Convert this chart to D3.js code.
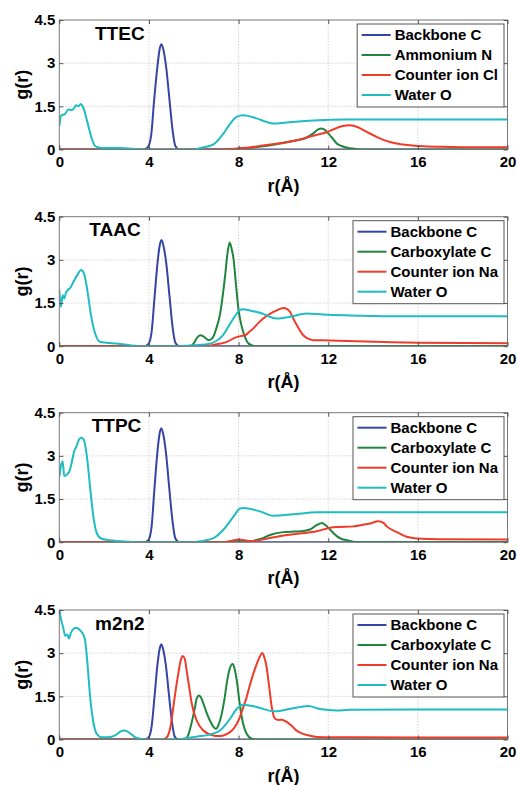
<!DOCTYPE html>
<html>
<head>
<meta charset="utf-8">
<script src="https://cdn.jsdelivr.net/npm/d3@7"></script>
<style>
  body { margin: 0; background: #fff; }
  svg { display: block; }
  text { font-family: "Liberation Sans", Arial, sans-serif; font-weight: bold; fill: #000; }
  .grid line { stroke: #d4d4d4; stroke-dasharray: 1.5,1.5; }
  .frame { fill: none; stroke: #777; stroke-width: 1; }
  .axis path { display: none; }
  .axis line { stroke: #555; }
  .curve { fill: none; stroke-width: 2; stroke-linejoin: round; }
</style>
</head>
<body>
<svg width="517" height="785"></svg>
<script>
// tick labels
var xTicks = [0, 4, 8, 12, 16, 20];
var yTicks = [0, 1.5, 3, 4.5];
var titles = ['TTEC', 'TAAC', 'TTPC', 'm2n2'];
var legendLabels = [
  ['Backbone C', 'Ammonium N', 'Counter ion Cl', 'Water O'],
  ['Backbone C', 'Carboxylate C', 'Counter ion Na', 'Water O'],
  ['Backbone C', 'Carboxylate C', 'Counter ion Na', 'Water O'],
  ['Backbone C', 'Carboxylate C', 'Counter ion Na', 'Water O']
];

// TTEC, [r, g(r)]
var ttecBackbone = [[0,0],[3.75,0],[3.95,0.08],[4.1,0.5],[4.23,1.7],[4.38,2.9],[4.48,3.5],[4.56,3.66],[4.65,3.45],[4.77,2.85],[4.92,1.7],[5.05,0.7],[5.18,0.12],[5.35,0],[20,0]];
var ttecAmmonium = [[0,0],[7.5,0],[8.0,0.03],[8.5,0.06],[9.1,0.11],[9.85,0.21],[10.6,0.32],[11.0,0.4],[11.33,0.56],[11.55,0.7],[11.7,0.73],[11.85,0.68],[12.0,0.56],[12.2,0.38],[12.38,0.21],[12.6,0.12],[12.8,0.07],[13.2,0.02],[13.6,0],[20,0]];
var ttecCounter = [[0,0],[7.0,0],[7.5,0.01],[8.0,0.04],[8.5,0.07],[9.1,0.14],[9.85,0.22],[10.6,0.32],[11.33,0.48],[11.93,0.6],[12.3,0.72],[12.53,0.79],[12.8,0.83],[12.97,0.84],[13.3,0.78],[13.72,0.61],[14.16,0.44],[14.75,0.26],[15.35,0.17],[16.24,0.11],[17.4,0.09],[18.5,0.08],[20,0.08]];
var ttecWater = [[0,0.81],[0.09,1.19],[0.25,1.23],[0.4,1.39],[0.55,1.37],[0.66,1.43],[0.75,1.54],[0.85,1.5],[0.95,1.58],[1.07,1.46],[1.25,0.96],[1.45,0.38],[1.6,0.12],[1.8,0.06],[2.2,0.05],[2.6,0.06],[3.0,0.04],[3.5,0.01],[4,0],[6.0,0],[6.3,0.05],[6.9,0.19],[7.33,0.56],[7.63,0.9],[7.93,1.14],[8.2,1.19],[8.81,1.08],[9.2,0.97],[9.55,0.9],[10.15,0.94],[11.33,1.01],[12.8,1.04],[16,1.04],[20,1.04]];

// TAAC
var taacBackbone = [[0,0],[3.8,0],[3.98,0.08],[4.12,0.5],[4.25,1.7],[4.39,2.95],[4.48,3.5],[4.56,3.69],[4.65,3.48],[4.77,2.9],[4.92,1.72],[5.05,0.7],[5.18,0.12],[5.35,0],[20,0]];
var taacCarboxylate = [[0,0],[5.8,0],[6.0,0.1],[6.15,0.3],[6.29,0.38],[6.45,0.33],[6.66,0.21],[6.85,0.3],[7.0,0.6],[7.18,1.14],[7.3,1.8],[7.41,2.53],[7.5,3.2],[7.6,3.6],[7.7,3.35],[7.78,3.0],[7.9,2.0],[8.0,1.25],[8.12,0.75],[8.23,0.44],[8.45,0.09],[8.75,0],[20,0]];
var taacCounter = [[0,0],[6.5,0],[7.02,0.07],[7.48,0.15],[7.85,0.3],[8.08,0.35],[8.3,0.38],[8.45,0.48],[8.66,0.62],[8.9,0.82],[9.1,0.96],[9.55,1.19],[9.8,1.28],[10.0,1.33],[10.15,1.3],[10.3,1.19],[10.45,0.95],[10.6,0.73],[10.89,0.38],[11.1,0.26],[11.33,0.21],[12.08,0.2],[13.27,0.17],[16,0.12],[20,0.1]];
var taacWater = [[0,1.97],[0.07,1.37],[0.15,1.77],[0.22,1.66],[0.3,1.86],[0.4,1.97],[0.5,2.04],[0.63,2.24],[0.8,2.47],[0.97,2.65],[1.1,2.53],[1.25,1.95],[1.4,1.14],[1.6,0.44],[1.82,0.15],[2.1,0.12],[2.56,0.09],[3.3,0.02],[3.6,0],[5.4,0],[5.7,0.02],[6.6,0.07],[7.0,0.18],[7.3,0.38],[7.62,0.78],[7.84,1.05],[8.06,1.25],[8.21,1.28],[8.5,1.24],[8.96,1.16],[9.7,0.96],[10.3,1.02],[11.04,1.14],[11.78,1.1],[12.97,1.07],[16,1.04],[20,1.04]];

// TTPC
var ttpcBackbone = [[0,0],[3.8,0],[3.98,0.08],[4.12,0.55],[4.24,1.8],[4.38,3.15],[4.47,3.75],[4.55,3.96],[4.64,3.75],[4.76,3.1],[4.91,1.85],[5.05,0.75],[5.18,0.13],[5.35,0],[20,0]];
var ttpcCarboxylate = [[0,0],[7.6,0],[7.9,0.06],[8.1,0.06],[8.5,0.04],[9.0,0.12],[9.4,0.25],[10.0,0.35],[10.5,0.37],[10.8,0.38],[11.19,0.44],[11.5,0.6],[11.71,0.67],[11.9,0.58],[12.08,0.44],[12.38,0.21],[12.6,0.11],[12.83,0.07],[13.1,0.02],[13.5,0],[20,0]];
var ttpcCounter = [[0,0],[7.3,0],[7.7,0.05],[8.0,0.09],[8.3,0.06],[8.6,0.04],[9.25,0.12],[10.0,0.23],[10.74,0.3],[11.49,0.38],[12.08,0.5],[12.5,0.53],[13.12,0.55],[13.5,0.6],[13.86,0.65],[14.24,0.73],[14.45,0.68],[14.61,0.55],[15.06,0.35],[15.5,0.19],[15.95,0.13],[17,0.1],[20,0.09]];
var ttpcWater = [[0,2.26],[0.07,2.63],[0.15,2.8],[0.22,2.3],[0.33,2.34],[0.45,2.46],[0.55,2.75],[0.66,3.15],[0.77,3.34],[0.89,3.58],[1.0,3.63],[1.1,3.55],[1.25,2.86],[1.37,1.94],[1.52,0.9],[1.67,0.32],[1.89,0.12],[2.27,0.07],[3.0,0.02],[3.5,0],[6.0,0],[6.29,0.03],[6.88,0.14],[7.33,0.44],[7.78,0.9],[8.06,1.17],[8.2,1.19],[8.96,1.07],[9.55,0.92],[10.44,0.97],[11.49,1.04],[12.97,1.04],[20,1.04]];

// m2n2
var m2n2Backbone = [[0,0],[3.82,0],[3.98,0.07],[4.12,0.45],[4.25,1.5],[4.38,2.6],[4.47,3.12],[4.55,3.31],[4.64,3.12],[4.76,2.55],[4.9,1.5],[5.03,0.6],[5.15,0.1],[5.3,0],[20,0]];
var m2n2Carboxylate = [[0,0],[5.6,0],[5.75,0.15],[5.91,0.6],[6.05,1.1],[6.13,1.42],[6.23,1.53],[6.33,1.45],[6.43,1.25],[6.58,0.92],[6.72,0.66],[6.87,0.45],[6.99,0.37],[7.1,0.5],[7.25,0.9],[7.37,1.4],[7.47,1.94],[7.6,2.45],[7.74,2.62],[7.84,2.4],[7.94,1.94],[8.04,1.3],[8.14,0.78],[8.25,0.42],[8.36,0.2],[8.58,0.03],[8.8,0],[20,0]];
var m2n2Counter = [[0,0],[4.6,0],[4.8,0.08],[4.95,0.4],[5.09,1.13],[5.2,1.75],[5.31,2.29],[5.42,2.75],[5.5,2.9],[5.6,2.8],[5.68,2.41],[5.8,1.8],[5.91,1.25],[6.13,0.66],[6.43,0.31],[6.87,0.14],[7.1,0.12],[7.32,0.14],[7.55,0.22],[7.77,0.37],[7.92,0.55],[8.06,0.78],[8.2,1.1],[8.36,1.47],[8.5,1.88],[8.66,2.29],[8.88,2.76],[9.06,3.01],[9.15,2.85],[9.25,2.52],[9.37,1.8],[9.48,1.13],[9.63,0.72],[9.78,0.68],[9.92,0.69],[10.15,0.61],[10.4,0.45],[10.59,0.31],[10.8,0.22],[11.04,0.16],[11.49,0.09],[12.38,0.08],[16,0.07],[20,0.07]];
var m2n2Water = [[0,4.47],[0.07,4.21],[0.18,3.86],[0.27,3.6],[0.36,3.65],[0.43,3.51],[0.51,3.69],[0.63,3.84],[0.77,3.88],[0.92,3.8],[1.04,3.69],[1.15,3.45],[1.25,2.7],[1.37,1.53],[1.52,0.6],[1.67,0.2],[1.89,0.08],[2.19,0.08],[2.49,0.14],[2.74,0.28],[2.9,0.31],[3.08,0.26],[3.38,0.08],[3.76,0.01],[4.0,0],[5.2,0],[5.53,0.03],[6.13,0.1],[6.72,0.17],[7.17,0.31],[7.4,0.5],[7.62,0.72],[7.92,1.07],[8.21,1.21],[8.81,1.13],[9.55,0.98],[9.7,0.98],[10.15,1.04],[10.89,1.15],[11.1,1.16],[11.63,1.06],[12.38,1.01],[12.97,1.03],[16,1.04],[20,1.04]];

var panelSeries = [
  [ttecBackbone, ttecAmmonium, ttecCounter, ttecWater],
  [taacBackbone, taacCarboxylate, taacCounter, taacWater],
  [ttpcBackbone, ttpcCarboxylate, ttpcCounter, ttpcWater],
  [m2n2Backbone, m2n2Carboxylate, m2n2Counter, m2n2Water]
];

var colors = ['#3545a5', '#1f843c', '#ef3b2a', '#1fbcc1'];
var plotLeft = 59.3, plotRight = 507.5, plotH = 129.5;
var panelTops = [20, 216.7, 412.7, 610];
var titleX = [95, 89.3, 91.7, 95];

var svg = d3.select('svg');

panelSeries.forEach(function(series, p) {
  var g = svg.append('g').attr('transform', 'translate(0,' + panelTops[p] + ')');
  var x = d3.scaleLinear().domain([0, 20]).range([plotLeft, plotRight]);
  var y = d3.scaleLinear().domain([0, 4.5]).range([plotH, 0]);

  // dotted grid
  var grid = g.append('g').attr('class', 'grid');
  grid.selectAll('.gx').data(xTicks.slice(1, -1)).enter().append('line')
    .attr('x1', function(d) { return x(d); }).attr('x2', function(d) { return x(d); })
    .attr('y1', 0).attr('y2', plotH);
  grid.selectAll('.gy').data(yTicks.slice(1, -1)).enter().append('line')
    .attr('x1', plotLeft).attr('x2', plotRight)
    .attr('y1', function(d) { return y(d); }).attr('y2', function(d) { return y(d); });

  // curves
  var clipId = 'clip' + p;
  g.append('clipPath').attr('id', clipId).append('rect')
    .attr('x', plotLeft).attr('y', 0).attr('width', plotRight - plotLeft).attr('height', plotH);
  var line = d3.line()
    .x(function(d) { return x(d[0]); })
    .y(function(d) { return y(d[1]); })
    .curve(d3.curveMonotoneX);
  g.append('g').attr('clip-path', 'url(#' + clipId + ')')
    .selectAll('path').data(series).enter().append('path')
    .attr('class', 'curve')
    .attr('d', line)
    .attr('stroke', function(d, i) { return colors[i]; });

  // frame + ticks
  g.append('rect').attr('class', 'frame')
    .attr('x', plotLeft).attr('y', 0).attr('width', plotRight - plotLeft).attr('height', plotH);

  g.append('g').attr('class', 'axis').attr('transform', 'translate(0,' + plotH + ')')
    .call(d3.axisBottom(x).tickValues(xTicks).tickSizeInner(-4).tickSizeOuter(0).tickPadding(7))
    .selectAll('text').style('font-size', '15px');
  g.append('g').attr('class', 'axis')
    .call(d3.axisTop(x).tickValues(xTicks).tickSizeInner(-4).tickSizeOuter(0).tickFormat(''));
  g.append('g').attr('class', 'axis').attr('transform', 'translate(' + plotLeft + ',0)')
    .call(d3.axisLeft(y).tickValues(yTicks).tickSizeInner(-4).tickSizeOuter(0).tickPadding(4).tickFormat(function(d) { return d; }))
    .selectAll('text').style('font-size', '15px');
  g.append('g').attr('class', 'axis').attr('transform', 'translate(' + plotRight + ',0)')
    .call(d3.axisRight(y).tickValues(yTicks).tickSizeInner(-4).tickSizeOuter(0).tickFormat(''));
  g.selectAll('.axis .tick text').attr('fill', '#000').style('font-family', '"Liberation Sans", Arial, sans-serif').style('font-weight', 'bold');

  // labels
  g.append('text')
    .attr('x', (plotLeft + plotRight) / 2).attr('y', plotH + 42)
    .attr('text-anchor', 'middle').style('font-size', '18px')
    .text('r(Å)');
  g.append('text')
    .attr('transform', 'translate(28,' + (plotH / 2) + ') rotate(-90)')
    .attr('text-anchor', 'middle').style('font-size', '18px')
    .text('g(r)');
  g.append('text')
    .attr('x', titleX[p]).attr('y', 19.5)
    .style('font-size', '19px')
    .text(titles[p]);

  // legend
  var leg = g.append('g');
  var box = leg.append('rect').attr('fill', '#fff').attr('stroke', '#555').attr('stroke-width', 1);
  var items = leg.selectAll('.item').data(legendLabels[p]).enter().append('g')
    .attr('transform', function(d, i) { return 'translate(0,' + (11 + i * 20) + ')'; });
  items.append('line')
    .attr('x1', 4.5).attr('x2', 33.5).attr('y1', 0).attr('y2', 0)
    .attr('stroke', function(d, i) { return colors[i]; }).attr('stroke-width', 2);
  var texts = items.append('text')
    .attr('x', 37.5).attr('y', 5.3)
    .style('font-size', '15px')
    .text(function(d) { return d; });
  var maxW = d3.max(texts.nodes(), function(n) { return n.getComputedTextLength(); });
  var boxW = 37.5 + maxW + 6;
  box.attr('x', 0).attr('y', 0).attr('width', boxW).attr('height', 83);
  leg.attr('transform', 'translate(' + (plotRight - 3.5 - boxW) + ',4)');
});
</script>
</body>
</html>
